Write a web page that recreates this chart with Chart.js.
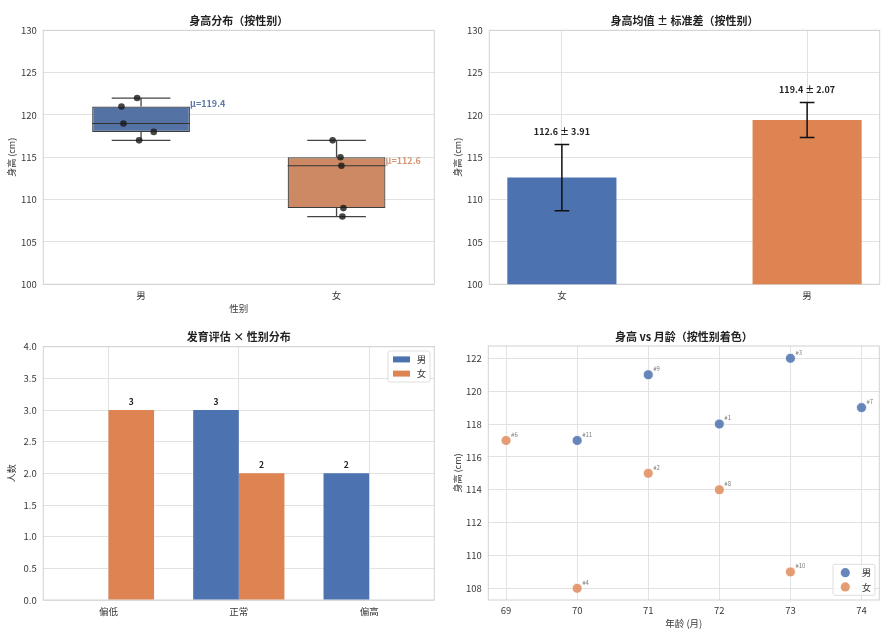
<!DOCTYPE html>
<html lang="zh-CN">
<head>
<meta charset="utf-8">
<title>身高统计</title>
<script src="https://cdn.jsdelivr.net/npm/chart.js@4.4.0/dist/chart.umd.min.js"></script>
<style>
  html, body { margin: 0; padding: 0; background: #fff; }
  #wrap { position: relative; width: 892px; height: 640px; }
  .panel { position: absolute; width: 446px; height: 320px; }
  .panel canvas { display: block; }
</style>
</head>
<body>
<div id="wrap">
  <div class="panel" style="left:0;top:0"><canvas id="boxChart" width="446" height="320"></canvas></div>
  <div class="panel" style="left:446px;top:0"><canvas id="meanChart" width="446" height="320"></canvas></div>
  <div class="panel" style="left:0;top:320px"><canvas id="devChart" width="446" height="320"></canvas></div>
  <div class="panel" style="left:446px;top:320px"><canvas id="ageChart" width="446" height="320"></canvas></div>
</div>
<script>
// ---- 数据 ----
// 身高分布（箱线图）
const genderCats = ['男', '女'];
const maleHeights = [122, 121, 119, 118, 117];
const maleJitter = [-0.02, -0.1, -0.09, 0.065, -0.01];
const femaleHeights = [117, 115, 114, 109, 108];
const femaleJitter = [-0.02, 0.02, 0.025, 0.035, 0.03];
const boxLow = [117, 108];
const boxQ1 = [118, 109];
const boxMedian = [119, 114];
const boxQ3 = [121, 115];
const boxHigh = [122, 117];
const heightMeans = [119.4, 112.6];
const heightTicks = [100, 105, 110, 115, 120, 125, 130];

// 均值 ± 标准差
const sdCats = ['女', '男'];
const sdMeans = [112.6, 119.4];
const sdValues = [3.91, 2.07];

// 发育评估 × 性别
const devCats = ['偏低', '正常', '偏高'];
const devMale = [0, 3, 2];
const devFemale = [3, 2, 0];

// 身高 vs 月龄
const maleAge = [72, 73, 74, 71, 70];
const maleHt = [118, 122, 119, 121, 117];
const maleIds = ['#1', '#3', '#7', '#9', '#11'];
const femaleAge = [71, 70, 69, 72, 73];
const femaleHt = [115, 108, 117, 114, 109];
const femaleIds = ['#2', '#4', '#6', '#8', '#10'];
const ageTicks = [69, 70, 71, 72, 73, 74];
const scatterHtTicks = [108, 110, 112, 114, 116, 118, 120, 122];

// ---- 样式 ----
const FONT = "'Noto Sans CJK SC', 'Open Sans', sans-serif";
const BLUE = '#4c72b0';
const ORANGE = '#dd8452';
const GRID = '#e2e2e2';
const SPINE = '#d2d2d2';
const TEXT = '#3a3a3a';

Chart.defaults.font.family = FONT;
Chart.defaults.color = TEXT;
Chart.defaults.animation = false;

function fixedWidth(w) { return function(scale) { scale.width = w; }; }
function fixedHeight(h) { return function(scale) { scale.height = h; }; }
function fixedTicks(values) {
    return function(scale) { scale.ticks = values.map(v => ({ value: v })); };
}

// 标题居中于绘图区
const panelTitle = {
    id: 'panelTitle',
    afterDraw(chart, args, opts) {
        const { ctx, chartArea } = chart;
        ctx.save();
        ctx.font = 'bold 11px ' + FONT;
        ctx.fillStyle = '#222';
        ctx.textAlign = 'center';
        ctx.textBaseline = 'middle';
        ctx.fillText(opts.text, (chartArea.left + chartArea.right) / 2, chartArea.top - opts.gap);
        ctx.restore();
    }
};

// 绘图区边框
const frame = {
    id: 'frame',
    beforeDatasetsDraw(chart) {
        const { ctx, chartArea: a } = chart;
        ctx.save();
        ctx.strokeStyle = SPINE;
        ctx.lineWidth = 1;
        ctx.strokeRect(a.left, a.top, a.right - a.left, a.bottom - a.top);
        ctx.restore();
    }
};

// 图内图例
function makeLegend(entries, marker, corner) {
    return {
        id: 'innerLegend',
        afterDraw(chart) {
            const { ctx, chartArea: a } = chart;
            const w = 42, h = 31;
            const left = a.right - 4.3 - w;
            const top = corner === 'top' ? a.top + 4.3 : a.bottom - 4.7 - h;
            ctx.save();
            ctx.fillStyle = 'rgba(255,255,255,0.85)';
            ctx.strokeStyle = '#d6d6d6';
            ctx.lineWidth = 0.8;
            ctx.beginPath();
            ctx.roundRect(left, top, w, h, 2);
            ctx.fill();
            ctx.stroke();
            entries.forEach(function(e, i) {
                const cy = top + 8.4 + i * 14.2;
                ctx.fillStyle = e.color;
                if (marker === 'rect') {
                    ctx.fillRect(left + 5, cy - 3, 17, 6);
                } else {
                    ctx.beginPath();
                    ctx.arc(left + 12.3, cy, 4.6, 0, Math.PI * 2);
                    ctx.fill();
                }
                ctx.fillStyle = TEXT;
                ctx.font = '9.5px ' + FONT;
                ctx.textAlign = 'center';
                ctx.textBaseline = 'middle';
                ctx.fillText(e.label, left + 33.5, cy);
            });
            ctx.restore();
        }
    };
}

function yAxis(title, width) {
    return {
        grid: { color: GRID, drawTicks: false },
        border: { display: false },
        ticks: { font: { size: 9.5 }, padding: 6.6, color: TEXT },
        title: { display: !!title, text: title, font: { size: 9 }, padding: { top: 6.6, bottom: 0 }, color: TEXT },
        afterFit: fixedWidth(width)
    };
}

// ---- 1. 身高分布（按性别） ----
const boxPlugin = {
    id: 'boxParts',
    afterDatasetDraw(chart, args) {
        if (args.index !== 0) return;
        const { ctx, scales: { x, y } } = chart;
        ctx.save();
        genderCats.forEach(function(c, i) {
            const cx = x.getPixelForValue(i);
            const capL = x.getPixelForValue(i - 0.15), capR = x.getPixelForValue(i + 0.15);
            const boxL = x.getPixelForValue(i - 0.25), boxR = x.getPixelForValue(i + 0.25);
            ctx.strokeStyle = '#444';
            ctx.lineWidth = 1.3;
            ctx.beginPath();
            ctx.moveTo(cx, y.getPixelForValue(boxQ3[i]));
            ctx.lineTo(cx, y.getPixelForValue(boxHigh[i]));
            ctx.moveTo(cx, y.getPixelForValue(boxQ1[i]));
            ctx.lineTo(cx, y.getPixelForValue(boxLow[i]));
            ctx.moveTo(capL, y.getPixelForValue(boxHigh[i]));
            ctx.lineTo(capR, y.getPixelForValue(boxHigh[i]));
            ctx.moveTo(capL, y.getPixelForValue(boxLow[i]));
            ctx.lineTo(capR, y.getPixelForValue(boxLow[i]));
            ctx.stroke();
            // 中位数
            ctx.strokeStyle = '#333';
            ctx.lineWidth = 1.1;
            ctx.beginPath();
            ctx.moveTo(boxL, y.getPixelForValue(boxMedian[i]));
            ctx.lineTo(boxR, y.getPixelForValue(boxMedian[i]));
            ctx.stroke();
        });
        ctx.restore();
    },
    afterDatasetsDraw(chart) {
        const { ctx, scales: { x, y } } = chart;
        const colors = ['#5b7aaa', '#d39674'];
        ctx.save();
        ctx.font = 'bold 9px ' + FONT;
        ctx.textAlign = 'left';
        ctx.textBaseline = 'middle';
        heightMeans.forEach(function(m, i) {
            ctx.fillStyle = colors[i];
            ctx.fillText('μ=' + m.toFixed(1), x.getPixelForValue(i + 0.25), y.getPixelForValue(m + 2));
        });
        ctx.restore();
    }
};

const boxPoints = maleHeights.map((h, i) => ({ x: 0 + maleJitter[i], y: h }))
    .concat(femaleHeights.map((h, i) => ({ x: 1 + femaleJitter[i], y: h })));

new Chart(document.getElementById('boxChart'), {
    type: 'bar',
    data: {
        datasets: [
            {
                type: 'bar',
                data: genderCats.map((c, i) => ({ x: i, y: [boxQ1[i], boxQ3[i]] })),
                backgroundColor: ['#5572a5', '#cc8963'],
                borderColor: '#3d3d3d',
                borderWidth: 1.2,
                borderSkipped: false,
                categoryPercentage: 0.5,
                barPercentage: 1,
                order: 1
            },
            {
                type: 'scatter',
                data: boxPoints,
                pointRadius: 3.3,
                backgroundColor: 'rgba(25,25,25,0.8)',
                borderWidth: 0,
                order: 0
            }
        ]
    },
    options: {
        responsive: false,
        layout: { padding: { top: 30.3, right: 11.7, left: 0, bottom: 0 } },
        plugins: {
            legend: { display: false },
            tooltip: { enabled: false },
            panelTitle: { text: '身高分布（按性别）', gap: 9.3 }
        },
        scales: {
            x: {
                type: 'linear',
                min: -0.5,
                max: 1.5,
                offset: false,
                grid: { display: false, offset: false, drawTicks: false },
                border: { display: false },
                afterBuildTicks: fixedTicks([0, 1]),
                ticks: { font: { size: 9.5 }, padding: 5, color: TEXT, callback: v => genderCats[v] },
                title: { display: true, text: '性别', font: { size: 9.5 }, padding: { top: 0, bottom: 6.3 }, color: TEXT },
                afterFit: fixedHeight(35.7)
            },
            y: Object.assign(yAxis('身高 (cm)', 43.3), { min: 100, max: 130, afterBuildTicks: fixedTicks(heightTicks) })
        }
    },
    plugins: [panelTitle, frame, boxPlugin]
});

// ---- 2. 身高均值 ± 标准差 ----
const errorBars = {
    id: 'errorBars',
    afterDatasetsDraw(chart) {
        const { ctx, scales: { x, y } } = chart;
        ctx.save();
        sdMeans.forEach(function(m, i) {
            const cx = x.getPixelForValue(i);
            const half = x.getPixelForValue(i + 0.03) - cx;
            const top = y.getPixelForValue(m + sdValues[i]);
            const bot = y.getPixelForValue(m - sdValues[i]);
            ctx.strokeStyle = '#111';
            ctx.lineWidth = 1.5;
            ctx.beginPath();
            ctx.moveTo(cx, top); ctx.lineTo(cx, bot);
            ctx.moveTo(cx - half, top); ctx.lineTo(cx + half, top);
            ctx.moveTo(cx - half, bot); ctx.lineTo(cx + half, bot);
            ctx.stroke();
            ctx.fillStyle = '#222';
            ctx.font = 'bold 9px ' + FONT;
            ctx.textAlign = 'center';
            ctx.textBaseline = 'middle';
            ctx.fillText(m.toFixed(1) + ' ± ' + sdValues[i].toFixed(2), cx, y.getPixelForValue(m + sdValues[i] + 1.5));
        });
        ctx.restore();
    }
};

new Chart(document.getElementById('meanChart'), {
    type: 'bar',
    data: {
        datasets: [{
            data: sdMeans.map((m, i) => ({ x: i, y: m })),
            backgroundColor: [BLUE, ORANGE],
            borderWidth: 0,
            categoryPercentage: 0.445,
            barPercentage: 1
        }]
    },
    options: {
        responsive: false,
        layout: { padding: { top: 30.3, right: 12.3, left: 0, bottom: 0 } },
        plugins: {
            legend: { display: false },
            tooltip: { enabled: false },
            panelTitle: { text: '身高均值 ± 标准差（按性别）', gap: 9.3 }
        },
        scales: {
            x: {
                type: 'linear',
                min: -0.296,
                max: 1.296,
                offset: false,
                grid: { color: GRID, offset: false, drawTicks: false },
                border: { display: false },
                afterBuildTicks: fixedTicks([0, 1]),
                ticks: { font: { size: 9.5 }, padding: 5, color: TEXT, callback: v => sdCats[v] },
                afterFit: fixedHeight(35.7)
            },
            y: Object.assign(yAxis('身高 (cm)', 43.3), { min: 100, max: 130, afterBuildTicks: fixedTicks(heightTicks) })
        }
    },
    plugins: [panelTitle, frame, errorBars]
});

// ---- 3. 发育评估 × 性别分布 ----
const barLabels = {
    id: 'barLabels',
    afterDatasetsDraw(chart) {
        const { ctx } = chart;
        ctx.save();
        ctx.font = 'bold 8.5px ' + FONT;
        ctx.fillStyle = '#222';
        ctx.textAlign = 'center';
        ctx.textBaseline = 'bottom';
        chart.data.datasets.forEach(function(ds, d) {
            chart.getDatasetMeta(d).data.forEach(function(bar, i) {
                if (ds.data[i] > 0) ctx.fillText(String(ds.data[i]), bar.x, bar.y - 4);
            });
        });
        ctx.restore();
    }
};

new Chart(document.getElementById('devChart'), {
    type: 'bar',
    data: {
        labels: devCats,
        datasets: [
            { label: '男', data: devMale, backgroundColor: BLUE, categoryPercentage: 0.7, barPercentage: 1 },
            { label: '女', data: devFemale, backgroundColor: ORANGE, categoryPercentage: 0.7, barPercentage: 1 }
        ]
    },
    options: {
        responsive: false,
        layout: { padding: { top: 26.7, right: 11.7, left: 0, bottom: 0 } },
        plugins: {
            legend: { display: false },
            tooltip: { enabled: false },
            panelTitle: { text: '发育评估 × 性别分布', gap: 9.7 }
        },
        scales: {
            x: {
                offset: true,
                grid: { color: GRID, offset: false, drawTicks: false },
                border: { display: false },
                ticks: { font: { size: 9.5 }, padding: 5.3, color: TEXT },
                afterFit: fixedHeight(40)
            },
            y: Object.assign(yAxis('人数', 43.3), {
                min: 0, max: 4,
                ticks: { font: { size: 9.5 }, padding: 6.6, color: TEXT, stepSize: 0.5, callback: v => v.toFixed(1) }
            })
        }
    },
    plugins: [panelTitle, frame, barLabels,
        makeLegend([{ label: '男', color: BLUE }, { label: '女', color: ORANGE }], 'rect', 'top')]
});

// ---- 4. 身高 vs 月龄 ----
const scatterIds = [maleIds, femaleIds];
const pointLabels = {
    id: 'pointLabels',
    afterDatasetsDraw(chart) {
        const { ctx } = chart;
        ctx.save();
        ctx.font = '6px ' + FONT;
        ctx.fillStyle = '#7a7a7a';
        ctx.textAlign = 'left';
        ctx.textBaseline = 'middle';
        chart.data.datasets.forEach(function(ds, d) {
            chart.getDatasetMeta(d).data.forEach(function(pt, i) {
                ctx.fillText(scatterIds[d][i], pt.x + 5, pt.y - 6);
            });
        });
        ctx.restore();
    }
};

new Chart(document.getElementById('ageChart'), {
    type: 'scatter',
    data: {
        datasets: [
            {
                label: '男',
                data: maleAge.map((a, i) => ({ x: a, y: maleHt[i] })),
                backgroundColor: 'rgba(76,114,176,0.85)',
                borderColor: '#fff',
                borderWidth: 0.8,
                pointRadius: 5
            },
            {
                label: '女',
                data: femaleAge.map((a, i) => ({ x: a, y: femaleHt[i] })),
                backgroundColor: 'rgba(221,132,82,0.8)',
                borderColor: '#fff',
                borderWidth: 0.8,
                pointRadius: 5
            }
        ]
    },
    options: {
        responsive: false,
        layout: { padding: { top: 26, right: 12.7, left: 0, bottom: 0 } },
        plugins: {
            legend: { display: false },
            tooltip: { enabled: false },
            panelTitle: { text: '身高 vs 月龄（按性别着色）', gap: 8.7 }
        },
        scales: {
            x: {
                min: 68.75,
                max: 74.25,
                grid: { color: GRID, drawTicks: false },
                border: { display: false },
                afterBuildTicks: fixedTicks(ageTicks),
                ticks: { font: { size: 9.5 }, padding: 4.6, color: TEXT },
                title: { display: true, text: '年龄 (月)', font: { size: 9.5 }, padding: { top: 0, bottom: 10.6 }, color: TEXT },
                afterFit: fixedHeight(40)
            },
            y: Object.assign(yAxis('身高 (cm)', 42.3), { min: 107.29, max: 122.75, afterBuildTicks: fixedTicks(scatterHtTicks) })
        }
    },
    plugins: [panelTitle, frame, pointLabels,
        makeLegend([{ label: '男', color: 'rgba(76,114,176,0.85)' }, { label: '女', color: 'rgba(221,132,82,0.8)' }], 'circle', 'bottom')]
});
</script>
</body>
</html>
